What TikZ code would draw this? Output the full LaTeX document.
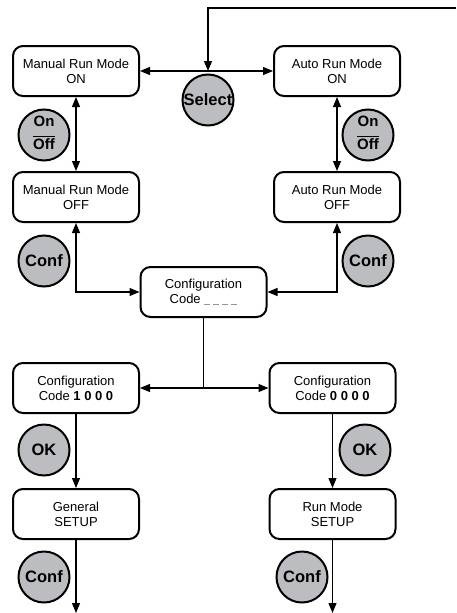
\documentclass[tikz,border=0pt]{standalone}
\usepackage{fontspec}
\setmainfont{Liberation Sans}
\usetikzlibrary{arrows.meta}
\definecolor{btn}{RGB}{188,189,193}
\definecolor{dashgray}{RGB}{150,150,150}
\tikzset{
  box/.style={draw, line width=2pt, rounded corners=10pt, fill=white,
    minimum width=126pt, minimum height=50pt, align=center,
    font=\fontsize{13}{15}\selectfont, inner sep=2pt},
  btnc/.style={circle, draw, line width=2pt, fill=btn, minimum size=51pt,
    inner sep=0pt, font=\fontsize{16.5}{17}\selectfont\bfseries, align=center},
  conn/.style={line width=1.1pt},
  arr/.style={conn, -{Triangle[length=10pt,width=8pt]}},
  darr/.style={conn, {Triangle[length=10pt,width=8pt]}-{Triangle[length=10pt,width=8pt]}},
}
\newcommand{\blanks}{\textcolor{dashgray}{\rule[-1.5pt]{6pt}{1pt}\hspace{3pt}\rule[-1.5pt]{6pt}{1pt}\hspace{3pt}\rule[-1.5pt]{6pt}{1pt}\hspace{3pt}\rule[-1.5pt]{6pt}{1pt}}}
\newcommand{\onoff}{{\fontsize{15}{15}\selectfont\begin{tabular}{@{}c@{}}On\\[-4pt]\rule{22pt}{1.6pt}\\[-3pt]Off\end{tabular}}}
\begin{document}
\begin{tikzpicture}[x=1pt,y=-1pt]
\useasboundingbox (0,0) rectangle (456,613);
% boxes
\node[box] (mon) at (76,71) {Manual Run Mode\\ON};
\node[box] (aon) at (337,71) {Auto Run Mode\\ON};
\node[box] (moff) at (76,197) {Manual Run Mode\\OFF};
\node[box] (aoff) at (337,197) {Auto Run Mode\\OFF};
\node[box] (cfg) at (203.5,292) {Configuration\\Code \blanks};
\node[box] (c1) at (76,388) {Configuration\\Code \textbf{1 0 0 0}};
\node[box] (c0) at (332.5,388) {Configuration\\Code \textbf{0 0 0 0}};
\node[box] (gen) at (76,514) {General\\SETUP};
\node[box] (rms) at (332.5,514) {Run Mode\\SETUP};
% connector coordinates
\coordinate (topR) at (456,8);
\coordinate (topM) at (208,8);
\coordinate (selJ) at (208,71);
\coordinate (cj) at (203.5,388);
\coordinate (genE) at (76,613);
\coordinate (rmsE) at (332.5,613);
% connectors
\draw[darr] (mon.east) -- (aon.west);
\draw[arr] (topR) -- (topM) -- (selJ);
\draw[darr] (mon.south) -- (moff.north);
\draw[darr] (aon.south) -- (aoff.north);
\draw[darr] (moff.south) |- (cfg.west);
\draw[darr] (aoff.south) |- (cfg.east);
\draw[conn] (cfg.south) -- (cj);
\draw[darr] (c1.east) -- (c0.west);
\draw[arr] (c1.south) -- (gen.north);
\draw[arr] (c0.south) -- (rms.north);
\draw[arr] (gen.south) -- (genE);
\draw[arr] (rms.south) -- (rmsE);
% buttons
\node[btnc] (sel) at (208,100) {Select};
\node[btnc] (oo1) at (44,135) {\onoff};
\node[btnc] (oo2) at (368,135) {\onoff};
\node[btnc] (cf1) at (44,261) {Conf};
\node[btnc] (cf2) at (368,261) {Conf};
\node[btnc] (ok1) at (44,450) {OK};
\node[btnc] (ok2) at (365,450) {OK};
\node[btnc] (cf3) at (44,577) {Conf};
\node[btnc] (cf4) at (302,577) {Conf};
\end{tikzpicture}
\end{document}
